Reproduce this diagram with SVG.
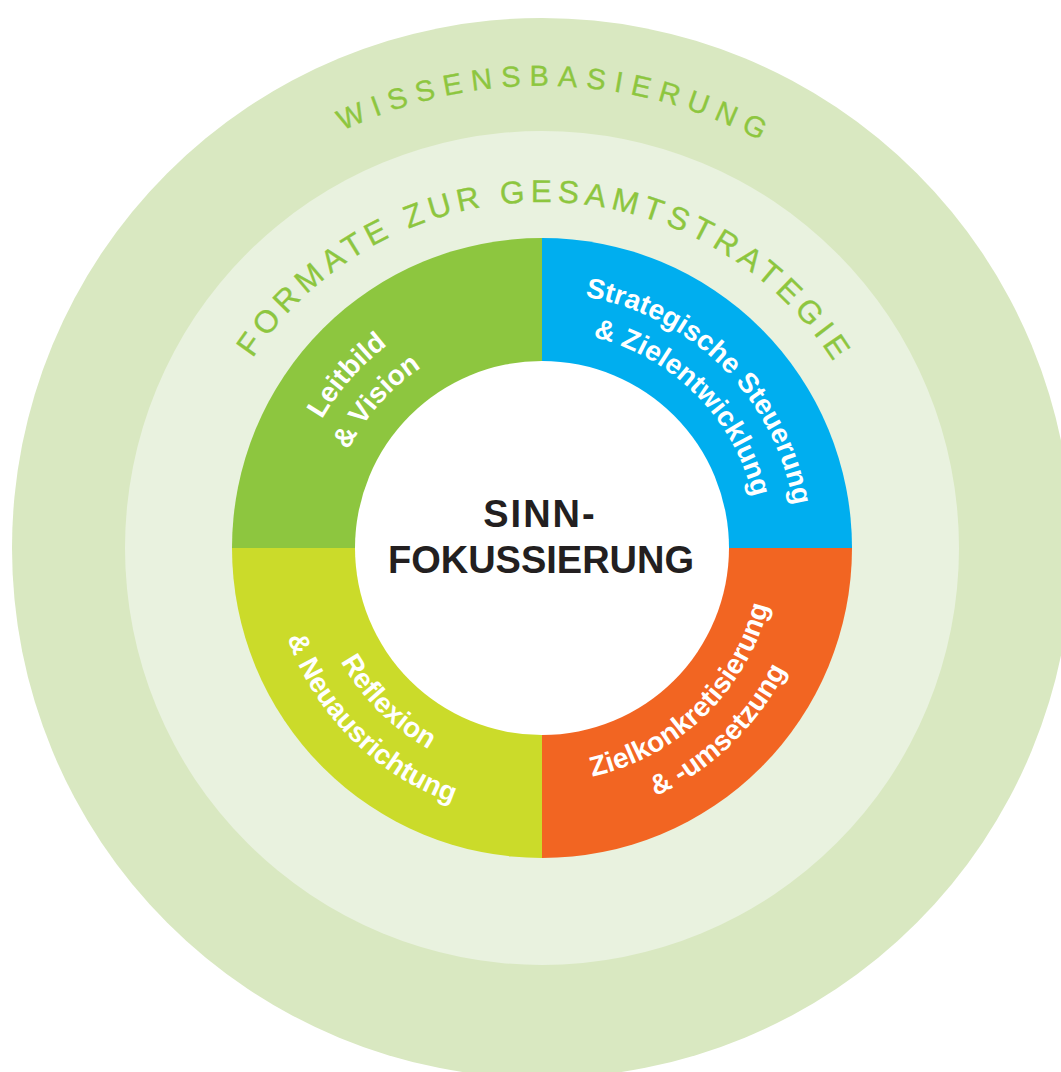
<svg xmlns="http://www.w3.org/2000/svg" xmlns:xlink="http://www.w3.org/1999/xlink" width="1061" height="1072" viewBox="0 0 1061 1072">
<style>
.ring{font-family:"Liberation Sans",Arial,sans-serif;font-weight:normal;fill:#8dc63f;stroke:#8dc63f;stroke-width:0.35px}
.lbl{font-family:"Liberation Sans",Arial,sans-serif;font-weight:bold;font-size:28px;fill:#ffffff}
.ctr{font-family:"Liberation Sans",Arial,sans-serif;font-weight:bold;font-size:38px;fill:#231f20;text-anchor:middle}
</style>
<defs>
<path id="cw462" d="M80,548 A462,462 0 1 1 1004,548 A462,462 0 1 1 80,548"/>
<path id="cw346" d="M196,548 A346,346 0 1 1 888,548 A346,346 0 1 1 196,548"/>
<path id="cw255" d="M287,548 A255,255 0 1 1 797,548 A255,255 0 1 1 287,548"/>
<path id="cw217" d="M325,548 A217,217 0 1 1 759,548 A217,217 0 1 1 325,548"/>
<path id="ccw231" d="M311,548 A231,231 0 1 0 773,548 A231,231 0 1 0 311,548"/>
<path id="ccw270" d="M272,548 A270,270 0 1 0 812,548 A270,270 0 1 0 272,548"/>
<path id="ccw234" d="M308,548 A234,234 0 1 0 776,548 A234,234 0 1 0 308,548"/>
<path id="ccw273" d="M269,548 A273,273 0 1 0 815,548 A273,273 0 1 0 269,548"/>
</defs>
<rect width="1061" height="1072" fill="#ffffff"/>
<g id="wissensbasierung">
<circle cx="542" cy="548" r="530" fill="#d9e8c1"/>
<text class="ring" font-size="29" letter-spacing="8.6" text-anchor="middle"><textPath xlink:href="#cw462" startOffset="740.5">WISSENSBASIERUNG</textPath></text>
</g>
<g id="formate">
<circle cx="542" cy="548" r="417" fill="#e9f2df"/>
<text class="ring" font-size="31.5" letter-spacing="5.6" text-anchor="middle"><textPath xlink:href="#cw346" startOffset="548">FORMATE ZUR GESAMTSTRATEGIE</textPath></text>
</g>
<g id="leitbild">
<path d="M542,548 L232,548 A310,310 0 0 1 542,238 Z" fill="#8dc63f"/>
<text class="lbl" text-anchor="middle"><textPath xlink:href="#cw255" startOffset="184.7">Leitbild</textPath></text>
<text class="lbl" text-anchor="middle"><textPath xlink:href="#cw217" startOffset="157.2">&amp; Vision</textPath></text>
</g>
<g id="steuerung">
<path d="M542,548 L542,238 A310,310 0 0 1 852,548 Z" fill="#00aeef"/>
<text class="lbl" text-anchor="middle"><textPath xlink:href="#cw255" startOffset="600.8">Strategische Steuerung</textPath></text>
<text class="lbl" text-anchor="middle"><textPath xlink:href="#cw217" startOffset="511.3">&amp; Zielentwicklung</textPath></text>
</g>
<g id="umsetzung">
<path d="M542,548 L852,548 A310,310 0 0 1 542,858 Z" fill="#f26522"/>
<text class="lbl" text-anchor="middle"><textPath xlink:href="#ccw234" startOffset="547.3">Zielkonkretisierung</textPath></text>
<text class="lbl" text-anchor="middle"><textPath xlink:href="#ccw273" startOffset="638.5">&amp; -umsetzung</textPath></text>
</g>
<g id="reflexion">
<path d="M542,548 L542,858 A310,310 0 0 1 232,548 Z" fill="#cbdb2a"/>
<text class="lbl" text-anchor="middle"><textPath xlink:href="#ccw231" startOffset="181.4">Reflexion</textPath></text>
<text class="lbl" text-anchor="middle"><textPath xlink:href="#ccw270" startOffset="212.1">&amp; Neuausrichtung</textPath></text>
</g>
<g id="sinnfokussierung">
<circle cx="542" cy="548" r="187" fill="#ffffff"/>
<text class="ctr" x="540" y="527" letter-spacing="2">SINN-</text>
<text class="ctr" x="541" y="573">FOKUSSIERUNG</text>
</g>
<g id="connectors"></g>
</svg>
